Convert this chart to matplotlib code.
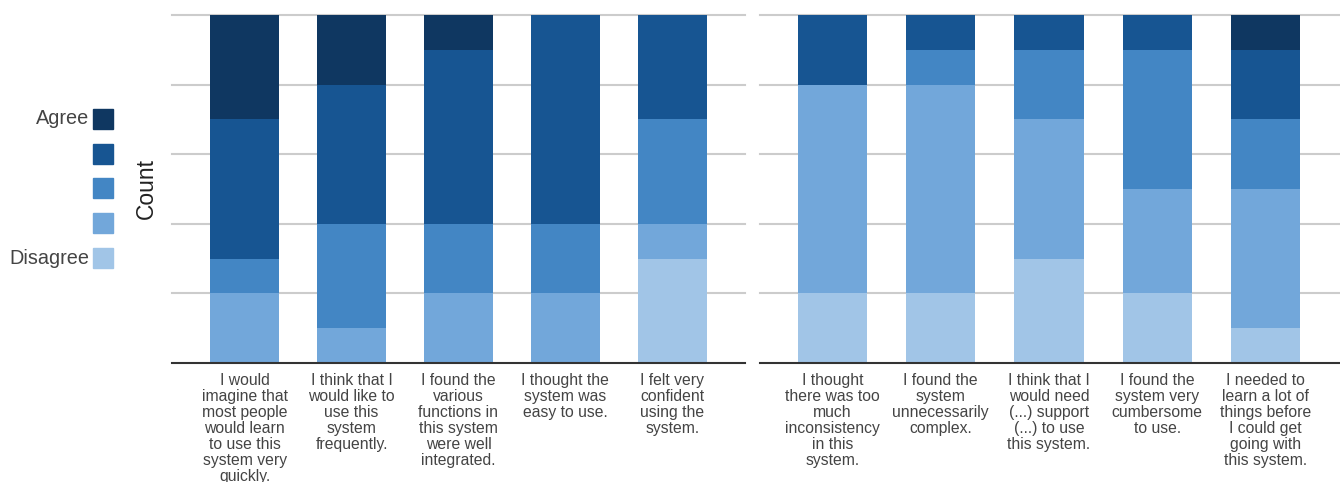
import matplotlib
matplotlib.use("Agg")
import matplotlib.pyplot as plt
from matplotlib.patches import Rectangle
import numpy as np

plt.rcParams['font.family'] = ['Liberation Sans', 'DejaVu Sans']

levels = ['Disagree', '', '', '', 'Agree']
colors = ['#a1c5e7', '#72a7da', '#4386c4', '#175592', '#0f3761']

left_labels = [
    "I would\nimagine that\nmost people\nwould learn\nto use this\nsystem very\nquickly.",
    "I think that I\nwould like to\nuse this\nsystem\nfrequently.",
    "I found the\nvarious\nfunctions in\nthis system\nwere well\nintegrated.",
    "I thought the\nsystem was\neasy to use.",
    "I felt very\nconfident\nusing the\nsystem.",
]
# counts per level (Disagree -> Agree) for each question
left_counts = [
    [0, 2, 1, 4, 3],
    [0, 1, 3, 4, 2],
    [0, 2, 2, 5, 1],
    [0, 2, 2, 6, 0],
    [3, 1, 3, 3, 0],
]

right_labels = [
    "I thought\nthere was too\nmuch\ninconsistency\nin this\nsystem.",
    "I found the\nsystem\nunnecessarily\ncomplex.",
    "I think that I\nwould need\n(...) support\n(...) to use\nthis system.",
    "I found the\nsystem very\ncumbersome\nto use.",
    "I needed to\nlearn a lot of\nthings before\nI could get\ngoing with\nthis system.",
]
right_counts = [
    [2, 6, 0, 2, 0],
    [2, 6, 1, 1, 0],
    [3, 4, 2, 1, 0],
    [2, 3, 4, 1, 0],
    [1, 4, 2, 2, 1],
]

W, H = 1340, 482
fig = plt.figure(figsize=(W / 100, H / 100), dpi=100)

def make_ax(x0, x1, labels, counts, xlim):
    ax = fig.add_axes([x0 / W, 1 - 363 / H, (x1 - x0) / W, (363 - 15) / H])
    data = np.array(counts)
    x = np.arange(len(labels))
    bottom = np.zeros(len(labels))
    for li in range(data.shape[1]):
        ax.bar(x, data[:, li], bottom=bottom, width=0.64, color=colors[li],
               linewidth=0, zorder=2)
        bottom += data[:, li]
    ax.set_ylim(0, 10)
    ax.set_xlim(*xlim)
    ax.set_yticks([2, 4, 6, 8, 10])
    ax.yaxis.grid(True, color='#cccccc', linewidth=1.5, zorder=0)
    for gl in ax.get_ygridlines():
        gl.set_clip_on(False)
    ax.tick_params(axis='y', length=0, labelleft=False)
    ax.set_xticks(x)
    ax.set_xticklabels(labels, fontsize=11.3, color='#444444', linespacing=1.09)
    ax.tick_params(axis='x', length=0, pad=7)
    for s in ['top', 'right', 'left']:
        ax.spines[s].set_visible(False)
    ax.spines['bottom'].set_color('#333333')
    ax.spines['bottom'].set_linewidth(1.5)
    ax.set_axisbelow(True)
    return ax

ax1 = make_ax(172, 745, left_labels, left_counts, (-0.68, 4.68))
ax2 = make_ax(760, 1340, right_labels, right_counts, (-0.67, 4.69))

# y label
fig.text(146 / W, 1 - 189 / H, 'Count', rotation=90, ha='center', va='center',
         fontsize=16.4, color='#222222')

# legend
ys = [258, 223, 188, 154, 119]
for li in range(5):
    yc = ys[li]
    fig.add_artist(Rectangle((93 / W, 1 - (yc + 10) / H), 20 / W, 20 / H,
                             transform=fig.transFigure, color=colors[li]))
    if levels[li]:
        fig.text(89 / W, 1 - yc / H, levels[li], ha='right', va='center',
                 fontsize=14.3, color='#444444')

fig.savefig('out.png', dpi=100)
